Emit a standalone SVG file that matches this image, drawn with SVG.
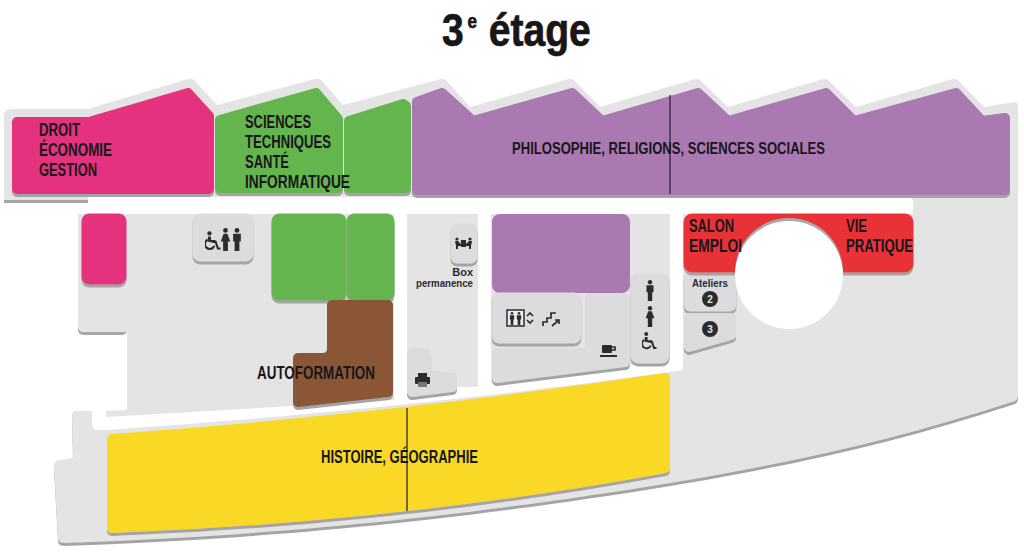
<svg xmlns="http://www.w3.org/2000/svg" width="1024" height="552" viewBox="0 0 1024 552">
<style>
text{font-family:"Liberation Sans",Arial,sans-serif;font-weight:700;fill:#17171a}
.title{stroke:#17171a;stroke-width:.7}
.lab{font-size:18px}
.mid{font-size:16px}
.sm{font-size:11px;fill:#2a2a2c}
.num{font-size:10px;fill:#e8e8e8}
.zone{stroke-width:10;stroke-linejoin:round;filter:url(#sh)}
.rz{stroke:none;filter:url(#sh)}
.pink{fill:#e5307f;stroke:#e5307f}
.green{fill:#65b54f;stroke:#65b54f}
.purple{fill:#ab79b2;stroke:#ab79b2}
.red{fill:#e83338;stroke:#e83338}
.brown{fill:#8b5636;stroke:#8b5636}
.yellow{fill:#f9d928;stroke:#f9d928}
.tile{fill:#dcdcdf;stroke:#dcdcdf}
.floor{fill:#e4e4e4}
.ico{fill:#2c2c2e}
.icol{fill:none;stroke:#2c2c2e;stroke-width:1.7}
.icow{fill:none;stroke:#2c2c2e;stroke-width:2.4}
.rule{stroke:#2e2838;stroke-width:1.3}
</style>
<defs>
<filter id="sh" filterUnits="userSpaceOnUse" x="0" y="0" width="1024" height="552"><feDropShadow dx="0" dy="3" stdDeviation="0.6" flood-color="#a4a4a4"/></filter>
<symbol id="man" viewBox="0 0 10 24"><circle cx="5" cy="2.500" r="2.500" class="ico"/><path class="ico" d="M1 6h8v8H7.500v10h-5V14H1z"/></symbol>
<symbol id="woman" viewBox="0 0 10 24"><circle cx="5" cy="2.500" r="2.500" class="ico"/><path class="ico" d="M3 6h4l3 8H7.500v10h-5V14H0z"/></symbol>
<symbol id="wheel" viewBox="0 0 18 22"><circle cx="5" cy="2.500" r="2.400" class="ico"/><path class="ico" d="M3.300 6h3.400v4h5v2.400H6.700l-3.400-.5z"/><path class="icow" d="M3 9.500a5.500 5.500 0 1 0 7.500 7"/><path class="icow" d="M8 12h4l2.500 7.500h3"/></symbol>
</defs>
<text class="title" transform="translate(442,46) scale(.85,1)" font-size="46">3<tspan x="30" y="-18" font-size="20">e</tspan><tspan x="55" y="0">étage</tspan></text>

<g id="floor-north">
<path class="floor" filter="url(#sh)" d="M4 200V116Q4 109 12 109H88V200Z"/>
<path class="floor" d="M80 197V109H88L188 79Q192 78 195 81L217 105L315 79Q319 78 322 81L343 105L441 79Q444 78 447 81L470 107L569 79Q572 78 575 81L600 107L695 79Q698 78 701 81L728 107L823 79Q826 78 829 81L856 107L953 79Q956 78 959 81L984 107L1014 102Q1018 102 1018 106V200H912V197Z"/>
</g>
<g id="floor-west">
<rect x="78" y="322" width="49" height="13" rx="5" fill="#a8a8a8"/>
<path class="floor" d="M78 214H394V400L106 417V411L127 410V332H84Q78 332 78 326Z"/>
</g>
<g id="floor-south">
<path class="floor" filter="url(#sh)" d="M76 411L92 411V424Q92 430 98 430H107Q400 410 670 372L683 370V214H913V200H1018V396Q1018 401 1012 402C880 445 760 470 600 494C480 512 300 535 65 543Q58 543 58 538L54 466Q54 460 60 460L73 458L72 415Q72 411 76 411Z"/>
</g>
<g id="floor-mid">
<rect class="floor" x="407" y="214" width="71" height="173"/>
<path class="floor" d="M491 214H670V360L491 383Z"/>
</g>

<g id="droit"><path class="zone pink" d="M17 122H89L188 93L209 116V189H17Z"/>
<text class="lab" x="39" y="136" textLength="41" lengthAdjust="spacingAndGlyphs">DROIT</text>
<text class="lab" x="39" y="156" textLength="73" lengthAdjust="spacingAndGlyphs">ÉCONOMIE</text>
<text class="lab" x="39" y="176" textLength="58" lengthAdjust="spacingAndGlyphs">GESTION</text></g>
<g id="droit-annexe"><rect class="rz pink" x="82" y="214" width="44" height="70" rx="7"/></g>

<g id="sciences"><path class="zone green" d="M220 120L316 93L338 119V188H220Z"/><path class="zone green" d="M349 121L403 104L406 106V188H349Z"/>
<text class="lab" x="245" y="128" textLength="66" lengthAdjust="spacingAndGlyphs">SCIENCES</text>
<text class="lab" x="245" y="148" textLength="86" lengthAdjust="spacingAndGlyphs">TECHNIQUES</text>
<text class="lab" x="245" y="168" textLength="44" lengthAdjust="spacingAndGlyphs">SANTÉ</text>
<text class="lab" x="245" y="188" textLength="105" lengthAdjust="spacingAndGlyphs">INFORMATIQUE</text></g>
<g id="sciences-annexe"><rect class="rz green" x="272" y="214" width="74" height="86" rx="7"/><rect class="rz green" x="347" y="214" width="47" height="86" rx="7"/></g>

<g id="philosophie"><path class="zone purple" d="M417 102L442 93L473 121L572 93L602 121L698 93L728 121L826 93L854 121L956 93L982 121L1005 118V190H417Z"/>
<line class="rule" x1="670" y1="95" x2="670" y2="194"/>
<text class="mid" x="512" y="154" textLength="313" lengthAdjust="spacingAndGlyphs">PHILOSOPHIE, RELIGIONS, SCIENCES SOCIALES</text></g>

<g id="autoformation"><path class="zone brown" d="M332 305H388V392L298 402V358H322Q332 358 332 348Z"/>
<text class="lab" x="257" y="379" textLength="118" lengthAdjust="spacingAndGlyphs">AUTOFORMATION</text></g>

<g id="histoire"><path class="zone yellow" d="M112 439Q400 418 665 378V468Q400 517 112 528Z"/>
<line class="rule" x1="407" y1="408" x2="407" y2="511"/>
<text class="lab" x="321" y="463" textLength="157" lengthAdjust="spacingAndGlyphs">HISTOIRE, GÉOGRAPHIE</text></g>

<g id="ateliers"><rect class="rz tile" x="684" y="273" width="52" height="38" rx="6"/>
<path class="zone tile" d="M689 318H731V335L689 347Z"/></g>

<g id="salon"><rect class="rz red" x="684" y="214" width="229" height="58" rx="8"/>
<circle cx="789" cy="272" r="54" fill="#aaaaaa"/><circle cx="789" cy="275" r="54" fill="#fff"/>
<text class="lab" x="689" y="232" textLength="45" lengthAdjust="spacingAndGlyphs">SALON</text>
<text class="lab" x="689" y="252" textLength="53" lengthAdjust="spacingAndGlyphs">EMPLOI</text>
<text class="lab" x="846" y="232" textLength="21" lengthAdjust="spacingAndGlyphs">VIE</text>
<text class="lab" x="846" y="252" textLength="67" lengthAdjust="spacingAndGlyphs">PRATIQUE</text></g>

<g id="ateliers-labels">
<text class="sm" x="710" y="287" text-anchor="middle" textLength="36" lengthAdjust="spacingAndGlyphs">Ateliers</text>
<circle cx="710" cy="299" r="8" fill="#2c2c2e"/><circle cx="710" cy="329" r="8" fill="#2c2c2e"/>
<text class="num" x="710" y="303" text-anchor="middle">2</text>
<text class="num" x="710" y="333" text-anchor="middle">3</text></g>

<g id="philosophie-annexe"><rect class="purple" style="stroke:none" x="492" y="214" width="138" height="79" rx="8"/></g>

<g id="sanitaires-ouest"><rect class="rz tile" x="193" y="214" width="60" height="47" rx="7"/>
<use href="#wheel" x="205" y="231" width="16" height="20"/><use href="#woman" x="220" y="228" width="11" height="23"/><use href="#man" x="232" y="228" width="10" height="23"/></g>

<g id="box-permanence"><rect class="rz tile" x="451" y="224" width="26" height="39" rx="6"/>
<g class="ico"><rect x="461" y="240" width="5" height="7"/><circle cx="457" cy="239" r="1.600"/><circle cx="470" cy="239" r="1.600"/><path d="M455 241h3l3 3v2h-3v3h-2v-3zM472 241h-3l-3 3v2h3v3h2v-3z"/></g>
<text class="sm" x="473" y="276" text-anchor="end">Box</text>
<text class="sm" x="473" y="287" text-anchor="end" textLength="57" lengthAdjust="spacingAndGlyphs">permanence</text></g>

<g id="imprimante"><path class="zone tile" d="M412 353H425L428 375L452 378V387L412 392Z"/>
<g class="ico"><rect x="418" y="373" width="9" height="4"/><rect x="415" y="377" width="15" height="7" rx="1"/><rect x="418" y="382" width="9" height="5" fill="#777"/></g></g>

<g id="cafeteria"><path class="zone tile" d="M590 298H625V362L497 378V353H590Z"/>
<g class="ico"><rect x="602" y="345" width="10" height="8" rx="1"/><path class="icol" d="M612 347h3v3h-3"/><rect x="600" y="355" width="17" height="2"/></g></g>

<g id="ascenseurs"><rect class="rz tile" x="492" y="293" width="89" height="50" rx="7"/>
<rect x="507" y="310" width="17" height="16" fill="#eee" stroke="#2c2c2e" stroke-width="1.500"/>
<use href="#man" x="509" y="312" width="6" height="13"/><use href="#man" x="516" y="312" width="6" height="13"/>
<path class="icol" d="M527 316l3-3 3 3M527 320l3 3 3-3"/>
<path class="icol" d="M543 326v-4h4v-4h4v-5h5M552 326l7-6M555 320h4v4"/></g>

<g id="sanitaires-est"><rect class="rz tile" x="631" y="274" width="38" height="89" rx="7"/>
<use href="#man" x="645" y="280" width="10" height="21"/><use href="#woman" x="645" y="306" width="10" height="21"/><use href="#wheel" x="642" y="332" width="15" height="18"/></g>
</svg>
